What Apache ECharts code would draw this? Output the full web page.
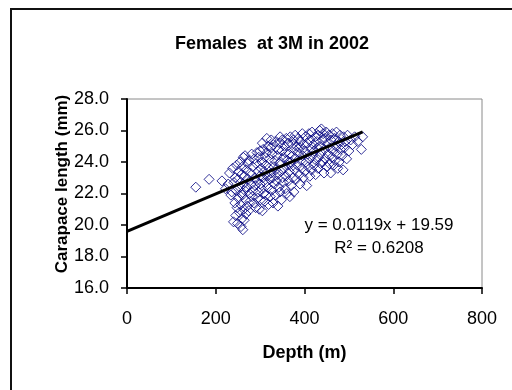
<!DOCTYPE html>
<html><head><meta charset="utf-8">
<script src="https://cdn.jsdelivr.net/npm/echarts@6/dist/echarts.min.js"></script>
<style>html,body{margin:0;padding:0;background:#fff}#c{width:512px;height:390px}</style>
</head><body><div id="c"></div>
<script>
const titleText = "Females  at 3M in 2002";
const xTitle = "Depth (m)";
const yTitle = "Carapace length (mm)";
const xTicks = [0, 200, 400, 600, 800];
const yTicks = [16, 18, 20, 22, 24, 26, 28];
const equationText = "y = 0.0119x + 19.59";
const r2Text = "R\u00b2 = 0.6208";
const trendDepth = [0, 531];
const trendLength = [19.59, 25.91];
const depth = [
155,185,214,222,228,231,234,236,
238,240,241,243,244,245,246,247,248,249,250,251,252,253,254,255,256,257,258,258,259,260,260,261,262,262,263,264,265,265,
266,267,268,269,270,271,272,273,274,275,276,277,278,280,281,282,283,284,286,287,288,289,290,291,292,293,294,295,296,297,298,299,300,300,301,302,303,304,305,306,
307,308,309,310,311,312,313,314,315,316,317,318,319,320,321,322,323,324,325,326,327,328,329,330,331,332,333,334,335,336,337,338,339,340,341,342,343,344,345,346,347,348,349,350,350,305,315,325,345,
352,353,354,355,356,357,358,359,360,361,362,363,364,365,366,367,368,369,370,371,372,373,374,375,376,377,378,379,380,381,382,384,385,386,388,389,390,391,392,394,395,396,397,398,400,
401,402,403,405,406,407,408,410,411,412,413,415,416,417,418,420,421,422,424,425,426,428,429,430,431,432,434,435,436,437,438,440,441,442,444,445,446,447,449,450,
452,453,455,456,457,459,460,462,463,465,466,468,469,471,472,474,475,477,478,480,481,483,485,487,488,490,492,495,497,500,504,508,513,520,528,531
];
const length = [
22.4,22.9,22.8,22.3,22.6,23.3,21.9,22.1,
23.6,20.2,22.7,21.4,23.0,20.6,22.2,23.8,21.1,20.1,22.9,21.7,23.4,20.8,22.4,24.0,21.3,19.9,22.0,23.2,20.4,21.9,23.7,19.7,22.6,24.3,21.0,20.3,23.1,22.2,
24.4,21.6,20.7,23.5,22.4,21.2,23.9,22.9,20.9,24.1,22.0,21.5,23.3,22.6,24.5,21.8,23.7,22.2,21.4,24.2,23.0,22.5,21.1,23.9,22.8,24.6,21.7,23.4,22.1,24.3,21.0,23.1,22.6,24.7,21.6,23.6,22.3,24.0,20.9,23.0,
24.8,22.0,23.4,21.5,24.3,22.7,23.8,21.9,24.6,23.1,22.4,25.0,21.3,23.6,24.2,22.9,21.8,24.9,23.3,22.2,24.5,23.0,21.4,25.1,23.7,22.6,24.1,21.9,23.5,25.3,22.8,24.4,23.2,21.2,24.8,22.4,23.9,25.2,22.1,24.0,23.4,21.6,24.7,23.0,25.4,25.2,25.5,25.4,25.6,
22.7,24.3,23.6,25.0,22.3,24.6,23.1,25.5,22.0,24.1,23.8,25.2,22.8,24.5,23.4,21.8,25.6,24.0,22.5,23.7,25.1,24.4,23.0,25.4,22.1,24.8,23.5,25.7,24.2,22.9,25.0,23.8,24.6,25.5,23.2,24.9,22.6,25.3,24.1,23.6,25.8,24.4,23.0,25.1,24.7,
23.4,25.6,24.0,22.5,25.2,24.5,23.7,25.8,24.2,23.1,25.4,24.8,23.5,25.9,24.4,25.1,23.8,24.7,25.6,23.2,24.1,25.3,24.9,23.6,25.7,24.3,26.0,25.0,23.9,24.6,26.1,25.4,24.0,25.8,23.3,24.8,25.5,24.2,25.9,23.7,
25.2,24.5,25.7,23.9,24.9,23.3,25.4,24.3,25.8,24.7,23.8,25.5,24.1,25.0,25.9,24.5,23.6,25.3,24.0,25.7,24.8,25.1,24.4,23.5,25.6,24.9,25.3,24.2,25.7,24.7,25.4,25.1,25.6,25.3,24.8,25.6
];
const points = depth.map((d, i) => [d, length[i]]);
const trend = trendDepth.map((d, i) => [d, trendLength[i]]);

const chart = echarts.init(document.getElementById('c'), null, {renderer: 'canvas'});
const font = 'Liberation Sans, Arial, sans-serif';
chart.setOption({
  animation: false,
  backgroundColor: '#fff',
  title: {
    text: titleText, left: 267, top: 30, textAlign: 'center',
    textStyle: {fontFamily: font, fontSize: 18, fontWeight: 'bold', color: '#000'}
  },
  grid: {left: 127, right: 30, top: 99, bottom: 102, show: true, borderColor: '#8a8a8a', borderWidth: 1, backgroundColor: '#fff'},
  xAxis: {
    type: 'value', min: 0, max: 800, interval: 200,
    name: xTitle, nameLocation: 'middle', nameGap: 56,
    nameTextStyle: {fontFamily: font, fontSize: 18, fontWeight: 'bold', color: '#000'},
    axisLine: {show: true, onZero: false, lineStyle: {color: '#000', width: 2}},
    axisTick: {show: true, inside: false, length: 6, lineStyle: {color: '#000', width: 1.5}},
    axisLabel: {fontFamily: font, fontSize: 18, color: '#000', margin: 22, customValues: xTicks},
    splitLine: {show: false}
  },
  yAxis: {
    type: 'value', min: 16, max: 28, interval: 2,
    axisLine: {show: true, onZero: false, lineStyle: {color: '#000', width: 2}},
    axisTick: {show: true, inside: false, length: 6, lineStyle: {color: '#000', width: 1.5}},
    axisLabel: {fontFamily: font, fontSize: 18, color: '#000', margin: 18, formatter: v => v.toFixed(1)},
    splitLine: {show: false}
  },
  graphic: [
    {type: 'rect', shape: {x: 11, y: 9, width: 700, height: 600}, style: {fill: 'none', stroke: '#111', lineWidth: 2}, silent: true, z: 100},
    {type: 'text', x: 62, y: 184, rotation: Math.PI / 2, style: {text: yTitle, fontFamily: font, fontSize: 17, fontWeight: 'bold', fill: '#000', textAlign: 'center', textVerticalAlign: 'middle'}, z: 100},
    {type: 'text', x: 379, y: 225, style: {text: equationText, fontFamily: font, fontSize: 17, fill: '#000', textAlign: 'center', textVerticalAlign: 'middle'}, z: 100},
    {type: 'text', x: 379, y: 248, style: {text: r2Text, fontFamily: font, fontSize: 17, fill: '#000', textAlign: 'center', textVerticalAlign: 'middle'}, z: 100}
  ],
  series: [
    {type: 'scatter', data: points, symbol: 'diamond', symbolSize: 10,
     itemStyle: {color: 'rgba(255,255,255,0)', borderColor: '#000080', borderWidth: 1}, z: 2},
    {type: 'line', data: trend, showSymbol: false, symbol: 'none', lineStyle: {color: '#000', width: 3}, z: 3}
  ]
});
</script></body></html>
